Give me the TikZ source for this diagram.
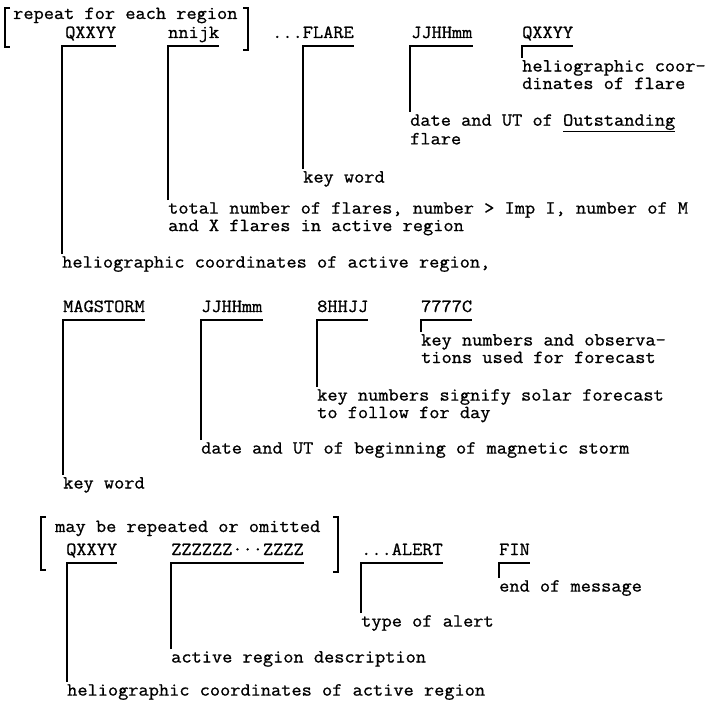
\documentclass[tikz,border=0pt]{standalone}
\usepackage{fontspec}
\setmonofont[FakeStretch=1.07,FakeBold=0.9]{Latin Modern Mono}

\begin{document}
\begin{tikzpicture}[x=1pt,y=-1pt,
  font=\ttfamily\fontsize{18.5}{17.5}\selectfont,
  code/.style={anchor=base west,inner sep=0pt,text depth=8pt},
  lbl/.style={anchor=north west,inner sep=0pt,align=left},
  lead/.style={line width=1.5pt,shorten <=2pt},
  brak/.style={line width=1.5pt}]
\useasboundingbox (0,0) rectangle (713,701);

% flare message
\draw[brak] (10,8) -- (5,8) -- (5,47) -- (10,47);
\draw[brak] (243,8) -- (248,8) -- (248,50) -- (243,50);
\node[code] (rep) at (13,19) {repeat for each region};
\node[code] (qa) at (65,38) {QXXYY};
\node[code] (na) at (168,38) {nnijk};
\node[code] (fl) at (272,38) {...FLARE};
\node[code] (ja) at (411,38) {JJHHmm};
\node[code] (qb) at (522,38) {QXXYY};

\node[lbl] (la1) at (62,256) {heliographic coordinates of active region,};
\node[lbl] (la2) at (168,202) {total number of flares, number > Imp I, number of M\\and X flares in active region};
\node[lbl] (la3) at (303,171) {key word};
\node[lbl] (la4) at (410,114) {date and UT of \underline{Outstanding}\\flare};
\node[lbl] (la5) at (522,60) {heliographic coor-\\dinates of flare};

\draw[lead] (la1.north west) |- (qa.south east);
\draw[lead] (la2.north west) |- (na.south east);
\draw[lead] (la3.north west) |- (fl.south east);
\draw[lead] (la4.north west) |- (ja.south east);
\draw[lead] (la5.north west) |- (qb.south east);

% storm and forecast
\node[code] (ms) at (63,312) {MAGSTORM};
\node[code] (jb) at (201,312) {JJHHmm};
\node[code] (fc) at (317,312) {8HHJJ};
\node[code] (kn) at (421,312) {7777C};

\node[lbl] (lb1) at (63,477) {key word};
\node[lbl] (lb2) at (201,442) {date and UT of beginning of magnetic storm};
\node[lbl] (lb3) at (317,389) {key numbers signify solar forecast\\to follow for day};
\node[lbl] (lb4) at (421,334) {key numbers and observa-\\tions used for forecast};

\draw[lead] (lb1.north west) |- (ms.south east);
\draw[lead] (lb2.north west) |- (jb.south east);
\draw[lead] (lb3.north west) |- (fc.south east);
\draw[lead] (lb4.north west) |- (kn.south east);

% alert and end
\draw[brak] (46,517) -- (41,517) -- (41,570) -- (46,570);
\draw[brak] (333,517) -- (338,517) -- (338,572) -- (333,572);
\node[code] (rp) at (55,532) {may be repeated or omitted};
\node[code] (qc) at (66,555) {QXXYY};
\node[code] (zz) at (171,555) {ZZZZZZ···ZZZZ};
\node[code] (al) at (361,555) {...ALERT};
\node[code] (fn) at (499,555) {FIN};

\node[lbl] (lc1) at (67,684) {heliographic coordinates of active region};
\node[lbl] (lc2) at (171,651) {active region description};
\node[lbl] (lc3) at (361,615) {type of alert};
\node[lbl] (lc4) at (499,580) {end of message};

\draw[lead] (lc1.north west) |- (qc.south east);
\draw[lead] (lc2.north west) |- (zz.south east);
\draw[lead] (lc3.north west) |- (al.south east);
\draw[lead] (lc4.north west) |- (fn.south east);

\end{tikzpicture}
\end{document}
